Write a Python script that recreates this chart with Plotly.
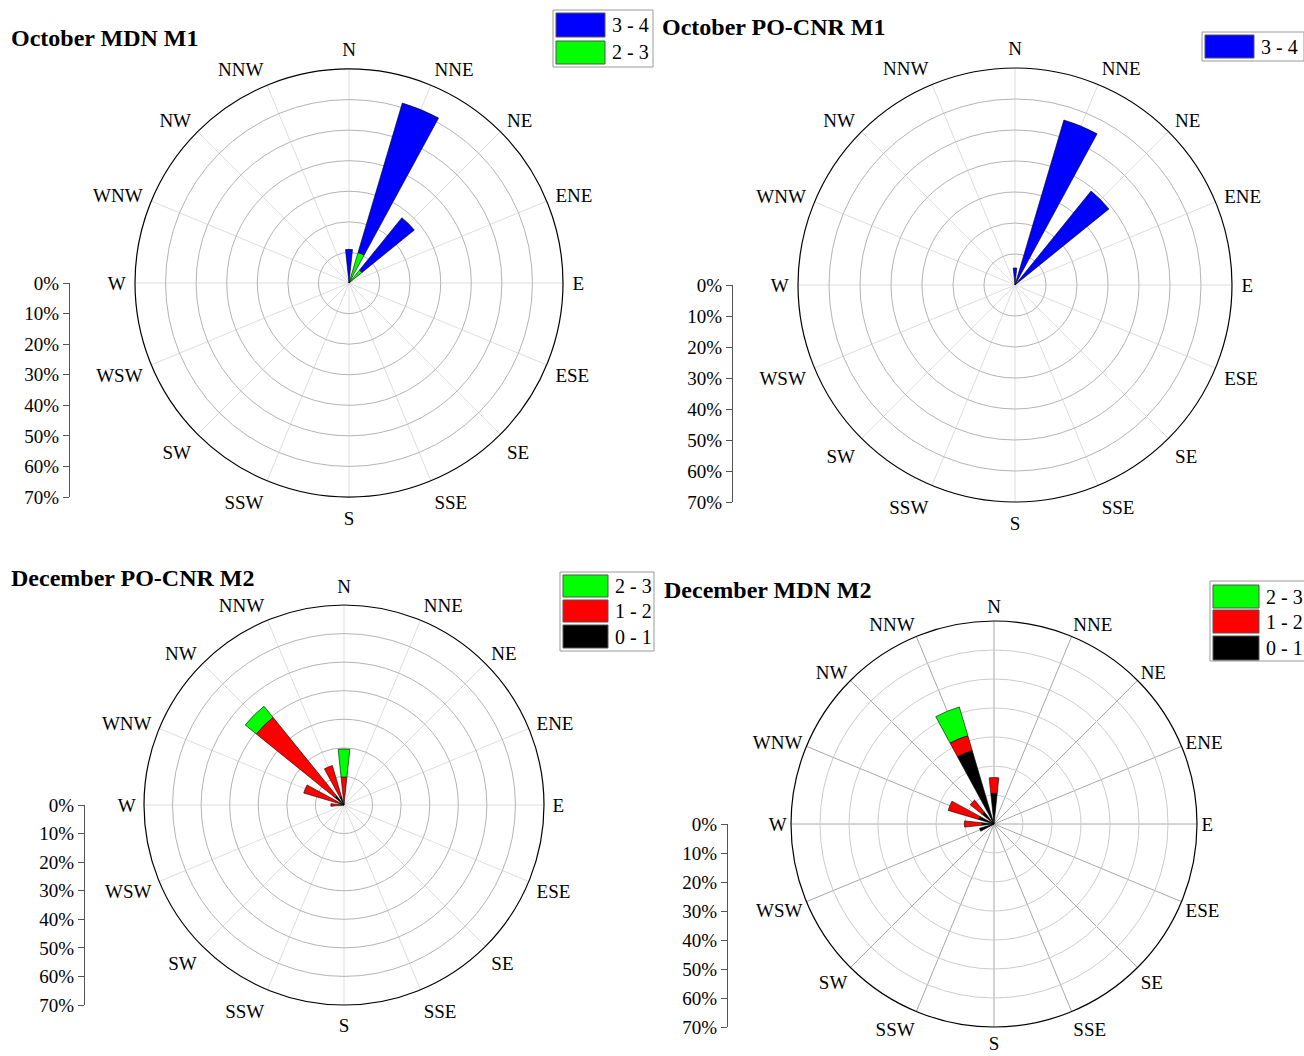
import plotly.graph_objects as go

W, H = 1304, 1056
directions = ["N", "NNE", "NE", "ENE", "E", "ESE", "SE", "SSE",
              "S", "SSW", "SW", "WSW", "W", "WNW", "NW", "NNW"]
angles = [i * 22.5 for i in range(16)]
radial_ticks = [0, 10, 20, 30, 40, 50, 60, 70]
radial_labels = [f"{v}%" for v in radial_ticks]

# Percent frequency per direction (N ... NNW)
oct_mdn_23 = [0, 10.4, 5.5, 0, 0, 0, 0, 0, 0, 0, 0, 0, 0, 0, 0, 0]
oct_mdn_34 = [11, 51, 22, 0, 0, 0, 0, 0, 0, 0, 0, 0, 0, 0, 0, 0]
oct_po_34 = [5.5, 55.5, 39, 0, 0, 0, 0, 0, 0, 0, 0, 0, 0, 0, 0, 0]
dec_po_01 = [0.5, 0, 0, 0, 0, 0, 0, 0, 0, 0, 0, 0, 1.0, 1.5, 4.0, 3.0]
dec_po_12 = [9.3, 0, 0, 0, 0, 0, 0, 0, 0, 0, 0, 0, 3.6, 13.2, 35.5, 11.4]
dec_po_23 = [9.8, 0, 0, 0, 0, 0, 0, 0, 0, 0, 0, 0, 0, 0, 5.0, 0]
dec_mdn_01 = [10.6, 0, 0, 0, 0, 0, 0, 0, 0, 0, 0, 5.2, 4.2, 5.5, 5.3, 26.4]
dec_mdn_12 = [5.4, 0, 0, 0, 0, 0, 0, 0, 0, 0, 0, 0, 6.0, 11.0, 5.3, 5.4]
dec_mdn_23 = [0, 0, 0, 0, 0, 0, 0, 0, 0, 0, 0, 0, 0, 0, 0, 10.3]

COL = {"0 - 1": "#000000", "1 - 2": "#ff0000", "2 - 3": "#00ff00", "3 - 4": "#0000ff"}

panels = [
    dict(title="October MDN M1", series=[("2 - 3", oct_mdn_23), ("3 - 4", oct_mdn_34)],
         c=(349, 283), R=214, axx=70, tpos=(9, 38), tl=5,
         leg=(553, 10, 653, 67), sw=[(13, 37), (41, 64)], lx=556, lw=49,
         spoke="#dddddd", ring="#b4b4b4"),
    dict(title="October PO-CNR M1", series=[("3 - 4", oct_po_34)],
         c=(1015, 285), R=217, axx=733, tpos=(660, 27), tl=5,
         leg=(1202, 32, 1304, 61), sw=[(35, 58)], lx=1205, lw=49,
         spoke="#dddddd", ring="#b4b4b4"),
    dict(title="December PO-CNR M2", series=[("0 - 1", dec_po_01), ("1 - 2", dec_po_12), ("2 - 3", dec_po_23)],
         c=(344, 805), R=200, axx=85, tpos=(9, 578), tl=4,
         leg=(560, 572, 654, 651), sw=[(575, 597), (600, 622), (625, 648)], lx=563, lw=45,
         spoke="#dddddd", ring="#b4b4b4"),
    dict(title="December MDN M2", series=[("0 - 1", dec_mdn_01), ("1 - 2", dec_mdn_12), ("2 - 3", dec_mdn_23)],
         c=(994, 824), R=203, axx=728, tpos=(662, 590), tl=0,
         leg=(1210, 581, 1305, 661), sw=[(585, 608), (610, 633), (636, 660)], lx=1213, lw=46,
         spoke="#a8a8a8", ring="#cccccc"),
]

def X(px):
    return px / W

def Y(py):
    return 1 - py / H

FONT = "Liberation Serif, Times New Roman, serif"
fig = go.Figure()
layout = dict(width=W, height=H, autosize=False,
              margin=dict(l=0, r=0, t=0, b=0, pad=0, autoexpand=False),
              paper_bgcolor="white", plot_bgcolor="white", showlegend=False,
              font=dict(family=FONT, size=19, color="black"))
shapes, annotations = [], []

for i, p in enumerate(panels, start=1):
    pid = "polar" if i == 1 else f"polar{i}"
    cx, cy = p["c"]
    R = p["R"]
    for name, vals in p["series"]:
        th = [a for a, v in zip(angles, vals) if v > 0]
        rr = [v for v in vals if v > 0]
        fig.add_trace(go.Barpolar(r=rr, theta=th, width=12, name=name, subplot=pid,
                                  marker=dict(color=COL[name], line=dict(color="black", width=0.6)),
                                  showlegend=False))
    layout[pid] = dict(
        domain=dict(x=[X(cx - R), X(cx + R)], y=[Y(cy + R), Y(cy - R)]),
        bgcolor="white", barmode="stack", hole=0,
        angularaxis=dict(rotation=90, direction="clockwise", tickmode="array",
                         tickvals=angles, ticktext=directions, showgrid=True,
                         gridcolor=p["spoke"], gridwidth=1, linecolor="black", linewidth=1.2,
                         ticks="outside" if p["tl"] > 0 else "", ticklen=max(p["tl"], 1),
                         tickcolor="rgba(0,0,0,0)",
                         tickfont=dict(family=FONT, size=19, color="black")),
        radialaxis=dict(range=[0, 70], tickvals=[10, 20, 30, 40, 50, 60, 70],
                        showticklabels=False, ticks="", showline=False,
                        gridcolor=p["ring"], gridwidth=1),
    )
    # left radial scale as cartesian axis
    xa = "xaxis" if i == 1 else f"xaxis{i}"
    ya = "yaxis" if i == 1 else f"yaxis{i}"
    xr = "x" if i == 1 else f"x{i}"
    yr = "y" if i == 1 else f"y{i}"
    fig.add_trace(go.Scatter(x=[0, 1], y=[0, 70], mode="markers", marker=dict(opacity=0),
                             hoverinfo="skip", showlegend=False, xaxis=xr, yaxis=yr))
    layout[xa] = dict(domain=[X(p["axx"]), X(p["axx"] + 10)], visible=False, range=[0, 1],
                      anchor=yr, fixedrange=True, automargin=False)
    layout[ya] = dict(domain=[Y(cy + R), Y(cy)], range=[70, 0], anchor=xr, side="left",
                      tickmode="array", tickvals=radial_ticks, ticktext=radial_labels,
                      ticks="outside", ticklen=6, tickcolor="#555555", showline=True,
                      linecolor="#555555", linewidth=1.2, showgrid=False, zeroline=False,
                      tickfont=dict(family=FONT, size=19, color="black"), fixedrange=True,
                      automargin=False)
    # title
    annotations.append(dict(text=f"<b>{p['title']}</b>", x=X(p["tpos"][0]), y=Y(p["tpos"][1]),
                            xref="paper", yref="paper", xanchor="left", yanchor="middle",
                            showarrow=False, font=dict(family=FONT, size=24, color="black")))
    # legend (top entry = highest class)
    lx0, ly0, lx1, ly1 = p["leg"]
    shapes.append(dict(type="rect", xref="paper", yref="paper", x0=X(lx0), x1=X(lx1),
                       y0=Y(ly1), y1=Y(ly0), line=dict(color="#999999", width=1),
                       fillcolor="white"))
    names = [s[0] for s in p["series"]][::-1]
    for name, (s0, s1) in zip(names, p["sw"]):
        shapes.append(dict(type="rect", xref="paper", yref="paper", x0=X(p["lx"]),
                           x1=X(p["lx"] + p["lw"]), y0=Y(s1), y1=Y(s0),
                           line=dict(color="#555555", width=1), fillcolor=COL[name]))
        annotations.append(dict(text=name, x=X(p["lx"] + p["lw"] + 5), y=Y((s0 + s1) / 2),
                                xref="paper", yref="paper", xanchor="left", yanchor="middle",
                                showarrow=False, font=dict(family=FONT, size=20, color="black")))

layout["shapes"] = shapes
layout["annotations"] = annotations
fig.update_layout(**layout)
fig.write_html("out.html")
